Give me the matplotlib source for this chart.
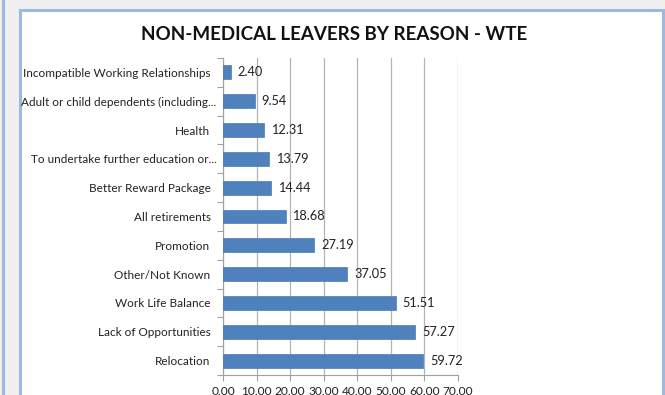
import matplotlib
matplotlib.use("Agg")
import matplotlib.pyplot as plt
from matplotlib.patches import Rectangle
from matplotlib.lines import Line2D
from matplotlib.ticker import FixedLocator, FormatStrFormatter
from matplotlib.transforms import ScaledTranslation
import numpy as np

plt.rcParams['font.family'] = ['Lato', 'DejaVu Sans']

reasons = [
    "Incompatible Working Relationships",
    "Adult or child dependents (including...",
    "Health",
    "To undertake further education or...",
    "Better Reward Package",
    "All retirements",
    "Promotion",
    "Other/Not Known",
    "Work Life Balance",
    "Lack of Opportunities",
    "Relocation",
]
wte = [2.40, 9.54, 12.31, 13.79, 14.44, 18.68, 27.19, 37.05, 51.51, 57.27, 59.72]
x_ticks = [0, 10, 20, 30, 40, 50, 60, 70]

W, H = 665, 395
fig = plt.figure(figsize=(W / 100, H / 100), dpi=100)
fig.patch.set_facecolor("#f0f0f0")

# chart panel frame
border = "#9db9de"
fig.patches.append(Rectangle((20 / W, 0), (663 - 20) / W, (H - 10) / H,
                             transform=fig.transFigure, facecolor="white",
                             edgecolor="none", zorder=-10))
for xs, ys in [([20 / W, 20 / W], [0, 1 - 10 / H]),
               ([663 / W, 663 / W], [0, 1 - 10 / H]),
               ([20 / W, 663 / W], [1 - 10 / H, 1 - 10 / H]),
               ([2.5 / W, 2.5 / W], [0, 1])]:
    fig.lines.append(Line2D(xs, ys, transform=fig.transFigure,
                            color=border, lw=2.2, zorder=-5))

ax = fig.add_axes([223 / W, (H - 375) / H, 235 / W, 317 / H])
ax.set_facecolor("none")
ax.set_zorder(2)

y = np.arange(len(reasons))
ax.barh(y, wte, height=0.48, color="#4f81bd", edgecolor="#4a7ab5",
        linewidth=0.5, zorder=3)
for yi, v in zip(y, wte):
    ax.text(v + 2.0, yi, f"{v:.2f}", va="center", ha="left",
            fontsize=9.2, color="#222222", zorder=4)

ax.set_xlim(0, 70)
ax.set_ylim(len(reasons) - 0.5, -0.5)
ax.set_xticks(x_ticks)
ax.xaxis.set_major_formatter(FormatStrFormatter("%.2f"))
ax.set_yticks(y)
ax.set_yticklabels(reasons)
ax.yaxis.set_minor_locator(FixedLocator(np.arange(-0.5, len(reasons), 1.0)))
ax.tick_params(axis="y", which="major", length=0, pad=9, labelsize=8.5,
               labelcolor="#222222")
ax.tick_params(axis="y", which="minor", length=4, color="#a0a0a0", width=0.8)
ax.tick_params(axis="x", which="major", length=4, color="#a0a0a0", width=0.8,
               pad=4, labelsize=8.6, labelcolor="#222222")

# truncated category names sit closer to the axis
shift = ScaledTranslation(6 / 100, 0, fig.dpi_scale_trans)
for lbl in ax.get_yticklabels():
    if lbl.get_text().endswith("..."):
        lbl.set_transform(lbl.get_transform() + shift)

ax.grid(axis="x", color="#b4b4b4", linewidth=0.9, zorder=0)
for side in ("top", "right"):
    ax.spines[side].set_visible(False)
for side in ("left", "bottom"):
    ax.spines[side].set_color("#a0a0a0")
    ax.spines[side].set_linewidth(0.8)

fig.text(334 / W, 1 - 34 / H, "NON-MEDICAL LEAVERS BY REASON - WTE",
         ha="center", va="center", fontsize=13.5, fontweight="bold",
         color="#111111")

fig.savefig("out.png", dpi=100, facecolor=fig.get_facecolor())
